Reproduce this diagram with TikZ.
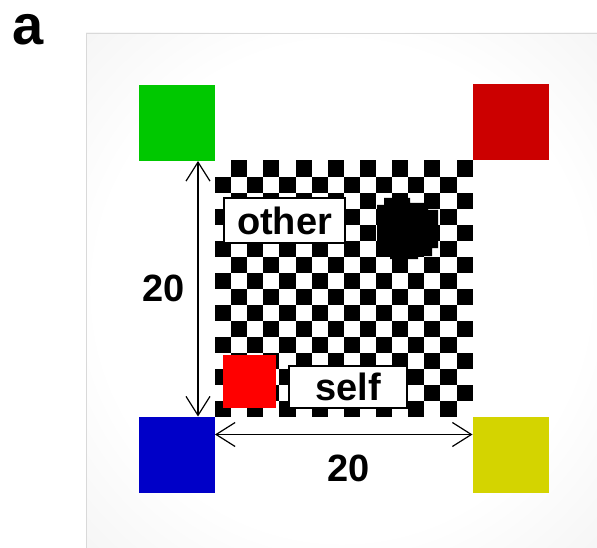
\documentclass[tikz,border=0pt]{standalone}
\usepackage{fontspec}
\setmainfont{Liberation Sans}
\usetikzlibrary{arrows.meta}
\definecolor{MarkGreen}{HTML}{00C800}
\definecolor{MarkRed}{HTML}{CC0000}
\definecolor{MarkBlue}{HTML}{0000C8}
\definecolor{MarkYellow}{HTML}{D4D400}
\definecolor{SelfRed}{HTML}{FF0000}
\definecolor{PanelGrey}{HTML}{E2E2E2}
\pgfdeclareradialshading{panelglow}{\pgfpoint{0bp}{0bp}}{color(0bp)=(white); color(24bp)=(white); color(40bp)=(PanelGrey!45!white); color(50bp)=(PanelGrey)}

\begin{document}
\begin{tikzpicture}[x=1pt, y=-1pt, font=\bfseries\fontsize{38}{40}\selectfont,
    marker/.style={minimum size=76pt, inner sep=0pt, outer sep=0pt},
    tag/.style={draw, line width=2pt, fill=white, inner sep=0pt, text height=27pt, text depth=0pt},
    dimline/.style={line width=1.2pt, {Straight Barb[length=19pt,width=24pt]}-{Straight Barb[length=19pt,width=24pt]}}]
  \useasboundingbox (0,0) rectangle (597,548);
  \shade[shading=panelglow] (86,33) rectangle (597,548);
  \draw[gray!30] (86,548) -- (86,33) -- (597,33);

  \node[marker, fill=MarkGreen] (green) at (177,123) {};
  \node[marker, fill=MarkRed] (red) at (510.5,122.5) {};
  \node[marker, fill=MarkBlue] (blue) at (177,454.5) {};
  \node[marker, fill=MarkYellow] (yellow) at (510.5,454.5) {};

  \foreach \r in {0,...,15} {
    \foreach \c in {0,...,15} {
      \pgfmathtruncatemacro\odd{mod(\r+\c,2)}
      \ifnum\odd=1 \fill (215+\c*16.1,160.5+\r*16.06) rectangle ++(16.1,16.06); \fi
    }
  }
  \fill (377,205) -- (384,205) -- (384,198) -- (410,198) -- (410,203) -- (428,203) -- (428,210)
    -- (438,210) -- (438,248) -- (432,248) -- (432,256) -- (418,256) -- (418,259) -- (390,259)
    -- (390,254) -- (377,254) -- cycle;

  \node[fill=SelfRed, minimum size=53pt, inner sep=0pt] (self) at (249,381) {};
  \node[tag, minimum width=121pt, minimum height=45pt] (otherlbl) at (284.5,220.5) {other};
  \node[tag, minimum width=118pt, minimum height=42pt] (selflbl) at (348,387) {self};

  \draw[dimline] ([xshift=-17pt]green.south east) -- ([xshift=-17pt]blue.north east);
  \draw[dimline] ([yshift=-18pt]blue.north east) -- ([yshift=-18pt]yellow.north west);
  \node (vlen) at (164,288) {20};
  \node (hlen) at (349,468) {20};
  \node[font=\bfseries\fontsize{56}{60}\selectfont] (panel) at (28,30) {a};
\end{tikzpicture}
\end{document}
